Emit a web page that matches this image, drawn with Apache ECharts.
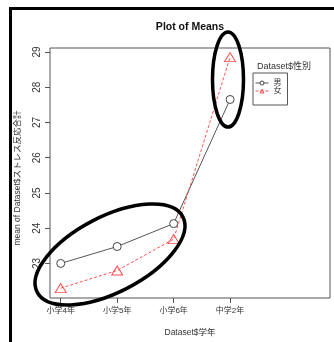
<!DOCTYPE html>
<html><head><meta charset="utf-8">
<script src="https://cdn.jsdelivr.net/npm/echarts@6/dist/echarts.min.js"></script>
<style>html,body{margin:0;padding:0;background:#fff}#c{width:334px;height:342px}</style>
</head><body><div id="c"></div>
<script>
const categories = ['小学4年', '小学5年', '小学6年', '中学2年'];
const maleMeans = [23.0, 23.48, 24.13, 27.65];
const femaleMeans = [22.30, 22.80, 23.69, 28.85];
const yTicks = [23, 24, 25, 26, 27, 28, 29];
const seriesNames = ['男', '女'];

const FONT = '"Liberation Sans", "Noto Sans CJK JP", sans-serif';
const pos = categories.map((c, i) => i + 1);
const chart = echarts.init(document.getElementById('c'));
chart.setOption({
  animation: false,
  title: [
    { text: 'Plot of Means', left: 190, top: 22, padding: 0, textAlign: 'center',
      textStyle: { fontFamily: FONT, fontSize: 10.5, fontWeight: 'bold', color: '#111' } },
    { text: 'Dataset$性別', left: 257, top: 62, padding: 0,
      textStyle: { fontFamily: FONT, fontSize: 9, fontWeight: 'normal', color: '#333' } }
  ],
  legend: {
    orient: 'vertical', left: 253, top: 73, itemGap: 0, itemWidth: 13, itemHeight: 5,
    padding: [6, 6, 10, 2], borderColor: '#555', borderWidth: 1,
    textStyle: { fontFamily: FONT, fontSize: 8, lineHeight: 8, color: '#333' },
    lineStyle: { width: 1 }, itemStyle: { borderWidth: 1 },
    data: seriesNames
  },
  grid: { left: 50, top: 48, right: 4, bottom: 44, show: true, borderColor: '#555', borderWidth: 1, containLabel: false },
  xAxis: {
    type: 'value', min: 0.81, max: 5.77,
    axisLine: { show: false }, splitLine: { show: false },
    axisTick: { show: true, customValues: pos, length: 5, lineStyle: { color: '#555' } },
    axisLabel: { customValues: pos, margin: 9, fontFamily: FONT, fontSize: 8, color: '#333',
      formatter: v => categories[Math.round(v) - 1] || '' },
    name: 'Dataset$学年', nameLocation: 'middle', nameGap: 30,
    nameTextStyle: { fontFamily: FONT, fontSize: 8.5, color: '#333' }
  },
  yAxis: {
    type: 'value', min: 22.02, max: 29.11,
    axisLine: { show: false }, splitLine: { show: false },
    axisTick: { show: true, customValues: yTicks, length: 5, lineStyle: { color: '#555' } },
    axisLabel: { customValues: yTicks, rotate: 90, margin: 8, fontFamily: FONT, fontSize: 10, color: '#333' },
    name: 'mean of Dataset$ストレス反応合計', nameLocation: 'middle', nameRotate: 90, nameGap: 28,
    nameTextStyle: { fontFamily: FONT, fontSize: 8.5, color: '#333', padding: [0, 10, 0, 0] }
  },
  series: [
    { name: seriesNames[0], type: 'line', data: pos.map((x, i) => [x, maleMeans[i]]),
      symbol: 'circle', symbolSize: 8, showSymbol: true,
      itemStyle: { color: '#fff', borderColor: '#444', borderWidth: 1 },
      lineStyle: { color: '#555', width: 1 }, z: 3 },
    { name: seriesNames[1], type: 'line', data: pos.map((x, i) => [x, femaleMeans[i]]),
      symbol: 'triangle', symbolSize: [11, 9], showSymbol: true,
      itemStyle: { color: 'rgba(255,255,255,0)', borderColor: '#ff5050', borderWidth: 1 },
      lineStyle: { color: '#ff5050', width: 1, type: [3, 2] }, z: 3 }
  ],
  graphic: [
    { type: 'rect', shape: { x: 9, y: 7, width: 330, height: 3 }, style: { fill: '#000' } },
    { type: 'rect', shape: { x: 9, y: 7, width: 3, height: 340 }, style: { fill: '#000' } },
    { type: 'ellipse', x: 228, y: 79.5, shape: { cx: 0, cy: 0, rx: 15.5, ry: 47.5 },
      style: { fill: 'none', stroke: '#000', lineWidth: 3.5 }, z: 10 },
    { type: 'ellipse', x: 110, y: 254.5, rotation: 27.35 * Math.PI / 180,
      shape: { cx: 0, cy: 0, rx: 82, ry: 37.8 },
      style: { fill: 'none', stroke: '#000', lineWidth: 3.5 }, z: 10 }
  ]
});
</script></body></html>
